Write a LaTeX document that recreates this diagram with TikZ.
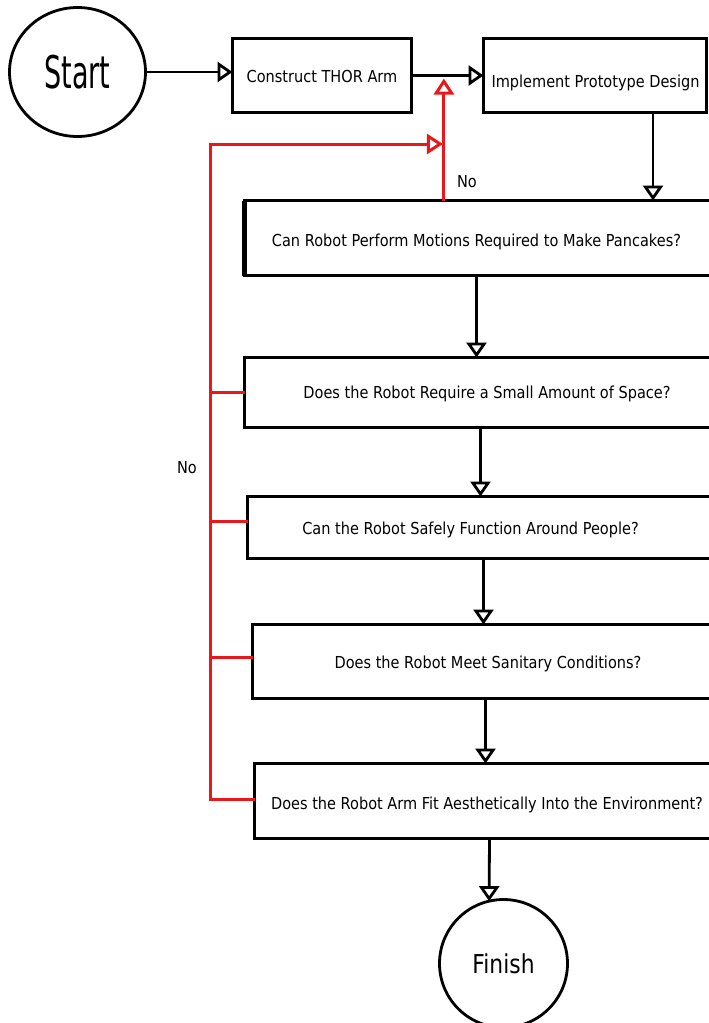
\documentclass[tikz,border=0pt]{standalone}
\usepackage{fontspec}
\usepackage{graphicx}
\setmainfont{DejaVu Sans}
\usetikzlibrary{arrows.meta,shapes.geometric,calc}
\definecolor{loopred}{RGB}{232,24,28}
% horizontally condensed text
\newcommand\narrow[2][0.88]{\scalebox{#1}[1]{#2}}

\begin{document}
\begin{tikzpicture}[x=1pt,y=-1pt,
  every node/.style={inner sep=0pt, outer sep=0pt},
  stepbox/.style={draw, line width=3pt, rectangle, anchor=north west},
  endcircle/.style={draw, line width=2.8pt, ellipse},
  boxtext/.style={font=\fontsize{16.5}{18}\selectfont, anchor=base},
  flow/.style={line width=2.8pt, -{Triangle[open,length=15pt,width=20pt]}},
  noflow/.style={draw=loopred, line width=3pt},
  noarrow/.style={noflow, -{Triangle[open,length=16pt,width=20pt]}},
]
\useasboundingbox (0,0) rectangle (709,1023);
\clip (0,0) rectangle (709,1023);

% terminals
\node[endcircle, minimum width=136, minimum height=129,
      font=\fontsize{45}{48}\selectfont] (start) at (77.5,72) {\narrow[0.6]{Start}};
\node[endcircle, minimum width=128, minimum height=128,
      font=\fontsize{26}{28}\selectfont] (finish) at (503.5,963.5) {\narrow[0.84]{Finish}};

% process boxes
\node[stepbox, minimum width=179, minimum height=74] (construct) at (232.5,38.5) {};
\node[stepbox, minimum width=223, minimum height=74] (implement) at (483.5,38.5) {};
\node[boxtext] (tconstruct) at (322,82) {\narrow{Construct THOR Arm}};
\node[boxtext] (timplement) at (595.5,87) {\narrow{Implement Prototype Design}};

% decision boxes (running off the right edge)
\node[stepbox, minimum width=520, minimum height=75] (q1) at (244.5,200.5) {};
\draw[line width=5pt] (q1.north west) -- (q1.south west);
\node[stepbox, minimum width=520, minimum height=70] (q2) at (244.5,357.5) {};
\node[stepbox, minimum width=520, minimum height=62] (q3) at (247.5,496.5) {};
\node[stepbox, minimum width=520, minimum height=74] (q4) at (252.5,624.5) {};
\node[stepbox, minimum width=520, minimum height=75] (q5) at (254.5,763.5) {};

\node[boxtext] (t1) at (476.5,246) {\narrow{Can Robot Perform Motions Required to Make Pancakes?}};
\node[boxtext] (t2) at (487,398) {\narrow{Does the Robot Require a Small Amount of Space?}};
\node[boxtext] (t3) at (470.5,534) {\narrow{Can the Robot Safely Function Around People?}};
\node[boxtext] (t4) at (488,668) {\narrow{Does the Robot Meet Sanitary Conditions?}};
\node[boxtext] (t5) at (487,809) {\narrow{Does the Robot Arm Fit Aesthetically Into the Environment?}};

% main flow
\draw[flow] (start.east) -- (start.east -| construct.west);
\draw[flow] (construct.east) -- (implement.west);
\coordinate (d0) at ($(implement.south)+(58,0)$);
\draw[flow] (d0) -- (d0 |- q1.north);
\coordinate (d1) at ($(q1.south west)+(232,0)$);
\draw[flow] (d1) -- (d1 |- q2.north);
\coordinate (d2) at ($(q2.south west)+(236,0)$);
\draw[flow] (d2) -- (d2 |- q3.north);
\coordinate (d3) at ($(q3.south west)+(236,0)$);
\draw[flow] (d3) -- (d3 |- q4.north);
\coordinate (d4) at ($(q4.south west)+(233,0)$);
\draw[flow] (d4) -- (d4 |- q5.north);
\draw[flow] ($(q5.south west)+(235,0)$) -- (finish.103);

% "No" loops back to the build step
\coordinate (merge) at ($(construct.east)!0.45!(implement.west)$);
\draw[noarrow] (merge |- q1.north) -- ([yshift=-3pt]merge);
\node[boxtext] (no1) at (467,187) {\narrow{No}};

\coordinate (bustop) at (210,144);
\coordinate (b2) at (q2.west);
\coordinate (b3) at ($(q3.west)+(0,-6)$);
\coordinate (b4) at ($(q4.west)+(0,-4.5)$);
\coordinate (b5) at ($(q5.west)+(0,-2)$);
\draw[noarrow] (b5) -- (bustop |- b5) -- (bustop) -- ([xshift=-1pt]bustop -| merge);
\draw[noflow] (bustop |- b2) -- (b2);
\draw[noflow] (bustop |- b3) -- (b3);
\draw[noflow] (bustop |- b4) -- (b4);
\node[boxtext] (no2) at (187,473) {\narrow{No}};
\end{tikzpicture}
\end{document}
